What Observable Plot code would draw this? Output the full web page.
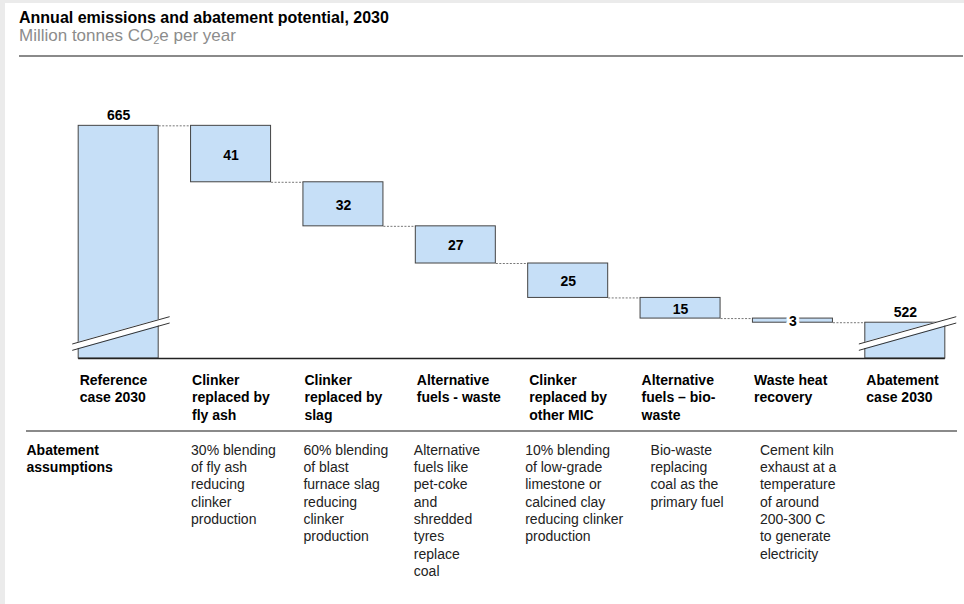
<!DOCTYPE html>
<html>
<head>
<meta charset="utf-8">
<script src="https://cdn.jsdelivr.net/npm/d3@7"></script>
<script src="https://cdn.jsdelivr.net/npm/@observablehq/plot@0.6"></script>
<style>
  html, body { margin: 0; padding: 0; }
  body { width: 964px; height: 604px; background: #ebebeb; position: relative; overflow: hidden;
         font-family: "Liberation Sans", Arial, Helvetica, sans-serif; }
  #panel { position: absolute; left: 5px; top: 3px; right: 0; bottom: 0; background: #fff; }
  #title { position: absolute; left: 19px; top: 10px; font-size: 16px; line-height: 16px; font-weight: bold; color: #000; white-space: nowrap; }
  #subtitle { position: absolute; left: 19px; top: 27px; font-size: 17px; line-height: 17px; color: #8c8c8c; white-space: nowrap; }
  #subtitle sub { font-size: 11px; vertical-align: -3px; line-height: 0; }
  #rule { position: absolute; left: 19px; right: 1px; top: 55px; height: 2px; background: #8a8a8a; }
  #sep { position: absolute; left: 26px; width: 931px; top: 430px; height: 2px; background: #8a8a8a; }
  #chart { position: absolute; left: 0; top: 64px; }
</style>
</head>
<body>
<div id="panel"></div>
<div id="title">Annual emissions and abatement potential, 2030</div>
<div id="subtitle">Million tonnes CO<sub>2</sub>e per year</div>
<div id="rule"></div>
<div id="sep"></div>
<div id="chart"></div>
<script>
// ---- data ----
const categories = [
  "Reference case 2030",
  "Clinker replaced by fly ash",
  "Clinker replaced by slag",
  "Alternative fuels - waste",
  "Clinker replaced by other MIC",
  "Alternative fuels – bio-waste",
  "Waste heat recovery",
  "Abatement case 2030"
];
const categoryLabels = [
  "Reference\ncase 2030",
  "Clinker\nreplaced by\nfly ash",
  "Clinker\nreplaced by\nslag",
  "Alternative\nfuels - waste",
  "Clinker\nreplaced by\nother MIC",
  "Alternative\nfuels – bio-\nwaste",
  "Waste heat\nrecovery",
  "Abatement\ncase 2030"
];
const values = [665, 41, 32, 27, 25, 15, 3, 522];
const isTotal = [true, false, false, false, false, false, false, true];
const assumptionsHeader = "Abatement\nassumptions";
const assumptions = [
  "",
  "30% blending\nof fly ash\nreducing\nclinker\nproduction",
  "60% blending\nof blast\nfurnace slag\nreducing\nclinker\nproduction",
  "Alternative\nfuels like\npet-coke\nand\nshredded\ntyres\nreplace\ncoal",
  "10% blending\nof low-grade\nlimestone or\ncalcined clay\nreducing clinker\nproduction",
  "Bio-waste\nreplacing\ncoal as the\nprimary fuel",
  "Cement kiln\nexhaust at a\ntemperature\nof around\n200-300 C\nto generate\nelectricity",
  ""
];
const axisFloor = 496;   // broken value axis starts here

// ---- layout constants ----
const hw = 0.356;                       // half bar width (in category units)
const assumptionNudge = [0, 0, 0, -2, -3, 10, 7, 0]; // px

// ---- derived rows ----
let running = values[0];
const rows = values.map((v, i) => {
  if (isTotal[i]) return {i, v, y1: axisFloor, y2: v, total: true};
  const top = running;
  running -= v;
  return {i, v, y1: running, y2: top, total: false};
});
const connectors = rows.slice(0, -1).map(r => ({i: r.i, y: r.total ? r.y2 : r.y1}));

// break marks on total bars
const breakLo = axisFloor + 6, breakRise = 19.7, breakGap = 4.6;
const breakPts = rows.filter(r => r.total).flatMap(r => [
  {i: r.i, x: r.i - 0.41, lo: breakLo, hi: breakLo + breakGap},
  {i: r.i, x: r.i + 0.45, lo: breakLo + breakRise, hi: breakLo + breakRise + breakGap}
]);

const font = "Liberation Sans, Arial, Helvetica, sans-serif";

const marks = [
  Plot.link(connectors, {x1: d => d.i + hw, x2: d => d.i + 1 - hw, y1: "y", y2: "y",
    stroke: "#777", strokeWidth: 1, strokeDasharray: "2,1.5"}),
  Plot.rect(rows, {x1: d => d.i - hw, x2: d => d.i + hw, y1: "y1", y2: "y2",
    fill: "#c6dff7", stroke: "#444", strokeWidth: 1}),
  Plot.areaY(breakPts, {x: "x", y1: "lo", y2: "hi", z: "i", fill: "#fff", curve: "linear"}),
  Plot.line(breakPts, {x: "x", y: "lo", z: "i", stroke: "#333", strokeWidth: 1}),
  Plot.line(breakPts, {x: "x", y: "hi", z: "i", stroke: "#333", strokeWidth: 1}),
  Plot.ruleY([axisFloor], {x1: -hw, x2: values.length - 1 + hw, stroke: "#222", strokeWidth: 1.6}),
  // totals above bars
  Plot.text(rows.filter(r => r.total), {x: "i", y: "y2", text: d => String(d.v),
    lineAnchor: "bottom", dy: -6, fontWeight: "bold", fontSize: 14, fill: "#000"}),
  // steps inside bars
  Plot.text(rows.filter(r => !r.total && r.v >= 5), {x: "i", y: d => (d.y1 + d.y2) / 2, text: d => String(d.v),
    dy: 1, fontWeight: "bold", fontSize: 14, fill: "#000"}),
  Plot.text(rows.filter(r => !r.total && r.v < 5), {x: "i", y: d => (d.y1 + d.y2) / 2, text: d => String(d.v),
    dy: 1, fontWeight: "bold", fontSize: 14, fill: "#000", stroke: "#fff", strokeWidth: 6, paintOrder: "stroke"}),
  // category labels
  Plot.text(rows, {x: d => d.i - hw, frameAnchor: "bottom", text: d => categoryLabels[d.i],
    textAnchor: "start", lineAnchor: "top", lineHeight: 1.25, dx: 1, dy: 13.6,
    fontWeight: "bold", fontSize: 14, fill: "#000"}),
  // assumptions header
  Plot.text([assumptionsHeader], {frameAnchor: "bottom-left", text: d => d,
    textAnchor: "start", lineAnchor: "top", lineHeight: 1.24, dx: -36, dy: 83.7,
    fontWeight: "bold", fontSize: 14, fill: "#000"}),
  // assumptions columns
  ...rows.filter(r => assumptions[r.i]).map(r =>
    Plot.text([r], {x: d => d.i - hw, frameAnchor: "bottom", text: d => assumptions[d.i],
      textAnchor: "start", lineAnchor: "top", lineHeight: 1.24, dx: assumptionNudge[r.i], dy: 83.7,
      fontSize: 14, fill: "#222"}))
];

const chart = Plot.plot({
  width: 964, height: 540,
  marginTop: 40, marginBottom: 246, marginLeft: 62, marginRight: 3,
  x: {type: "linear", domain: [-0.5, values.length - 0.5], axis: null},
  y: {domain: [axisFloor, 680.5], axis: null},
  style: {fontFamily: font, background: "transparent", overflow: "visible"},
  marks
});
document.getElementById("chart").appendChild(chart);
</script>
</body>
</html>
